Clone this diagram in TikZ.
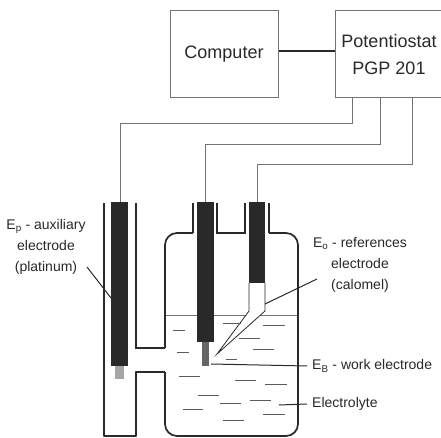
\documentclass[tikz,border=0pt]{standalone}
\usepackage{fontspec}
\setmainfont{Liberation Sans}
\definecolor{ink}{gray}{0.16}
\definecolor{wire}{gray}{0.45}
\tikzset{
  x=1pt,y=-1pt,
  boxnode/.style={draw=wire,line width=1pt,minimum width=108pt,minimum height=87pt,inner sep=0pt,align=center,text=ink,font=\fontsize{18}{27}\selectfont},
  wireline/.style={draw=wire,line width=0.9pt},
  wall/.style={draw=ink,line width=1.7pt},
  leader/.style={draw=ink,line width=1pt},
  dash line/.style={draw=wire!80!black,line width=0.8pt},
  lab/.style={inner sep=0pt,text=ink,align=center,font=\fontsize{14}{21}\selectfont},
  elec/.style={fill=ink,draw=none},
}
\begin{document}
\begin{tikzpicture}
\useasboundingbox (0,0) rectangle (441,438);
\fill[white] (0,0) rectangle (441,438);
\node[boxnode] (comp) at (224,54.5) {Computer};
\begin{scope}
\clip (0,0) rectangle (441,438);
\node[boxnode] (pot) at (389,54.5) {Potentiostat\\PGP 201};
\end{scope}
\draw[leader,line width=1.3pt] (comp.east |- 0,51) -- (pot.west |- 0,51);
\coordinate (w1) at (120.7,202);
\coordinate (w2) at (205,202);
\coordinate (w3) at (257,202);
\draw[wireline] (352,98) |- (120.7,123) -- (w1);
\draw[wireline] (380,98) |- (205,144) -- (w2);
\draw[wireline] (412,98) |- (257,164) -- (w3);
% electrolyte surface
\draw[wireline] (165,315) -- (298,315);
% electrodes
\fill[elec] (111,202) rectangle (128,366);
\fill[black!35] (115,366) rectangle (124,379);
\fill[elec] (197,202) rectangle (214,342);
\fill[black!60] (202,342) rectangle (209,366);
\fill[elec] (249,202) rectangle (265,283);
\draw[ink,line width=0.8pt,fill=white] (249,283) -- (249,311) -- (217,354) -- (265,311) -- (265,283);
% glass
\draw[wall,line join=round] (104,203) -- (104,436) -- (136,436) -- (136,372) -- (165,372);
\draw[wall,rounded corners=12pt] (165,372) -- (165,436) -- (298,436) -- (298,233) -- (269,233);
\draw[wall] (269,233) -- (269,203);
\draw[wall] (217,203) -- (217,233) -- (245,233) -- (245,203);
\draw[wall,rounded corners=12pt] (193,233) -- (165,233) -- (165,348);
\draw[wall] (193,203) -- (193,233);
\draw[wall] (136,203) -- (136,348) -- (165,348);
% dashes
\foreach \a/\b/\c in {250/285/450,400/452/430,520/584/436,447/510/474,490/552/509,262/298/516,407/442/539,266/330/588,435/498/602,526/590/612,323/386/646,391/454/671,479/543/660,278/340/687,520/584/704,398/462/721}
  \draw[dash line] ({90+\a/3},{180+\c/3}) -- ({90+\b/3},{180+\c/3});
% labels
\node[lab] (ep) at (46,247) {E\textsubscript{p} - auxiliary\\electrode\\(platinum)};
\node[lab] (eo) at (360,265) {E\textsubscript{o} - references\\electrode\\(calomel)};
\node[lab,anchor=west,inner xsep=5pt] (eb) at (307,366) {E\textsubscript{B} - work electrode};
\node[lab,anchor=west,inner xsep=5pt] (el) at (307,404) {Electrolyte};
\coordinate (l0) at (87,267);
\coordinate (l1) at (111,298);
\coordinate (l2) at (265,304);
\coordinate (l3) at (211,364);
\coordinate (l4) at (279,405);
\coordinate (l5) at (317,279);
\draw[leader] (l0) -- (l1);
\draw[leader] (l5) -- (l2);
\draw[leader] (eb.west) -- (l3);
\draw[leader] (el.west) -- (l4);
\end{tikzpicture}
\end{document}
